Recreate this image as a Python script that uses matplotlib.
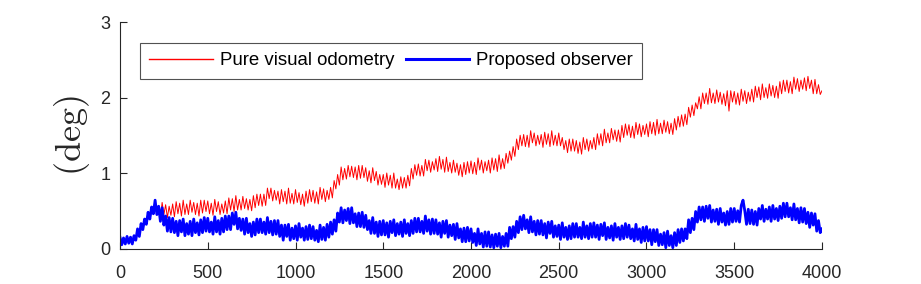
import numpy as np
import matplotlib
matplotlib.use('Agg')
import matplotlib.pyplot as plt

# sample index, one reading every 10 samples
t = np.arange(0, 4001, 10)

# pure visual odometry error (deg), one row per 100 samples
vo_err = [
    0.12, 0.08, 0.13, 0.07, 0.12, 0.09, 0.14, 0.08, 0.15, 0.12,
    0.24, 0.19, 0.31, 0.25, 0.38, 0.33, 0.46, 0.40, 0.53, 0.46,
    0.61, 0.44, 0.57, 0.41, 0.61, 0.45, 0.58, 0.41, 0.56, 0.44,
    0.59, 0.42, 0.62, 0.46, 0.60, 0.43, 0.64, 0.45, 0.59, 0.45,
    0.64, 0.48, 0.61, 0.45, 0.60, 0.43, 0.64, 0.47, 0.64, 0.49,
    0.63, 0.46, 0.60, 0.44, 0.65, 0.49, 0.62, 0.45, 0.59, 0.47,
    0.63, 0.46, 0.67, 0.51, 0.66, 0.49, 0.70, 0.51, 0.65, 0.51,
    0.69, 0.53, 0.66, 0.51, 0.65, 0.50, 0.70, 0.54, 0.72, 0.57,
    0.72, 0.56, 0.72, 0.57, 0.80, 0.66, 0.80, 0.63, 0.77, 0.64,
    0.76, 0.59, 0.78, 0.62, 0.76, 0.59, 0.80, 0.60, 0.73, 0.59,
    0.78, 0.61, 0.74, 0.58, 0.72, 0.56, 0.76, 0.60, 0.78, 0.62,
    0.77, 0.60, 0.75, 0.59, 0.81, 0.65, 0.79, 0.62, 0.77, 0.65,
    0.81, 0.67, 0.90, 0.79, 0.98, 0.84, 1.08, 0.91, 1.06, 0.92,
    1.10, 0.95, 1.09, 0.94, 1.08, 0.91, 1.10, 0.93, 1.10, 0.94,
    1.07, 0.89, 1.03, 0.87, 1.07, 0.90, 1.02, 0.84, 0.98, 0.85,
    0.98, 0.81, 1.00, 0.84, 0.97, 0.80, 1.00, 0.80, 0.92, 0.78,
    0.95, 0.80, 0.94, 0.80, 0.97, 0.83, 1.06, 0.92, 1.11, 0.97,
    1.12, 0.96, 1.10, 0.96, 1.18, 1.03, 1.17, 1.01, 1.15, 1.04,
    1.19, 1.02, 1.22, 1.05, 1.18, 1.01, 1.21, 1.02, 1.14, 1.00,
    1.17, 1.01, 1.13, 0.97, 1.11, 0.95, 1.14, 0.98, 1.15, 1.00,
    1.16, 0.99, 1.14, 0.98, 1.20, 1.04, 1.17, 1.00, 1.15, 1.03,
    1.17, 1.00, 1.20, 1.04, 1.19, 1.02, 1.24, 1.05, 1.19, 1.06,
    1.26, 1.13, 1.29, 1.17, 1.35, 1.22, 1.45, 1.31, 1.50, 1.36,
    1.51, 1.35, 1.50, 1.34, 1.56, 1.40, 1.53, 1.36, 1.50, 1.38,
    1.51, 1.34, 1.54, 1.38, 1.52, 1.35, 1.56, 1.37, 1.50, 1.36,
    1.53, 1.36, 1.47, 1.31, 1.43, 1.27, 1.45, 1.29, 1.45, 1.29,
    1.43, 1.26, 1.41, 1.25, 1.47, 1.31, 1.45, 1.29, 1.43, 1.32,
    1.47, 1.31, 1.52, 1.37, 1.52, 1.36, 1.58, 1.40, 1.53, 1.40,
    1.59, 1.44, 1.57, 1.42, 1.57, 1.41, 1.63, 1.47, 1.65, 1.50,
    1.64, 1.47, 1.62, 1.46, 1.67, 1.51, 1.65, 1.48, 1.63, 1.51,
    1.65, 1.48, 1.68, 1.52, 1.67, 1.50, 1.71, 1.52, 1.66, 1.52,
    1.70, 1.54, 1.68, 1.52, 1.66, 1.51, 1.72, 1.57, 1.75, 1.61,
    1.77, 1.62, 1.78, 1.64, 1.87, 1.74, 1.90, 1.76, 1.93, 1.85,
    2.01, 1.85, 2.06, 1.92, 2.06, 1.91, 2.12, 1.93, 2.06, 1.92,
    2.10, 1.94, 2.07, 1.91, 2.05, 1.89, 2.09, 1.82, 2.09, 1.94,
    2.08, 1.91, 2.06, 1.90, 2.11, 1.95, 2.09, 1.92, 2.07, 1.95,
    2.11, 1.94, 2.15, 2.00, 2.14, 1.97, 2.18, 2.00, 2.13, 1.99,
    2.18, 2.02, 2.16, 2.00, 2.15, 1.99, 2.21, 2.05, 2.23, 2.08,
    2.23, 2.06, 2.21, 2.05, 2.27, 2.11, 2.25, 2.08, 2.23, 2.11,
    2.26, 2.09, 2.28, 2.12, 2.23, 2.05, 2.24, 2.05, 2.17, 2.04,
    2.09]

# proposed observer error (deg), one row per 100 samples
obs_err = [
    0.15, 0.05, 0.14, 0.06, 0.16, 0.07, 0.15, 0.06, 0.17, 0.11,
    0.26, 0.16, 0.33, 0.25, 0.39, 0.32, 0.48, 0.39, 0.55, 0.46,
    0.64, 0.45, 0.56, 0.36, 0.54, 0.31, 0.43, 0.23, 0.41, 0.22,
    0.40, 0.21, 0.36, 0.17, 0.37, 0.22, 0.39, 0.17, 0.33, 0.19,
    0.36, 0.17, 0.39, 0.21, 0.34, 0.18, 0.38, 0.21, 0.41, 0.23,
    0.40, 0.22, 0.35, 0.19, 0.42, 0.22, 0.37, 0.19, 0.40, 0.22,
    0.43, 0.25, 0.43, 0.25, 0.47, 0.32, 0.48, 0.26, 0.40, 0.24,
    0.39, 0.19, 0.40, 0.21, 0.33, 0.16, 0.35, 0.18, 0.39, 0.21,
    0.39, 0.21, 0.35, 0.19, 0.41, 0.21, 0.36, 0.18, 0.37, 0.19,
    0.37, 0.16, 0.31, 0.11, 0.31, 0.16, 0.32, 0.11, 0.27, 0.13,
    0.30, 0.11, 0.33, 0.15, 0.27, 0.11, 0.29, 0.12, 0.31, 0.13,
    0.29, 0.11, 0.24, 0.09, 0.31, 0.12, 0.28, 0.11, 0.32, 0.15,
    0.35, 0.19, 0.38, 0.23, 0.47, 0.35, 0.54, 0.34, 0.51, 0.37,
    0.53, 0.33, 0.54, 0.34, 0.46, 0.29, 0.47, 0.29, 0.48, 0.28,
    0.44, 0.25, 0.37, 0.20, 0.41, 0.20, 0.35, 0.16, 0.36, 0.18,
    0.37, 0.18, 0.34, 0.15, 0.36, 0.21, 0.38, 0.17, 0.33, 0.19,
    0.35, 0.16, 0.38, 0.20, 0.33, 0.17, 0.37, 0.20, 0.40, 0.22,
    0.40, 0.22, 0.36, 0.20, 0.43, 0.23, 0.38, 0.19, 0.39, 0.20,
    0.38, 0.19, 0.34, 0.15, 0.36, 0.20, 0.37, 0.15, 0.31, 0.17,
    0.32, 0.12, 0.33, 0.14, 0.26, 0.09, 0.27, 0.09, 0.28, 0.10,
    0.26, 0.08, 0.20, 0.04, 0.26, 0.06, 0.20, 0.02, 0.22, 0.03,
    0.22, 0.02, 0.18, 0.01, 0.19, 0.03, 0.20, 0.01, 0.16, 0.03,
    0.20, 0.03, 0.28, 0.13, 0.29, 0.15, 0.36, 0.21, 0.42, 0.25,
    0.44, 0.26, 0.38, 0.21, 0.42, 0.22, 0.36, 0.18, 0.37, 0.19,
    0.37, 0.18, 0.33, 0.14, 0.35, 0.20, 0.36, 0.15, 0.30, 0.16,
    0.31, 0.12, 0.34, 0.15, 0.28, 0.12, 0.30, 0.13, 0.33, 0.15,
    0.33, 0.15, 0.28, 0.13, 0.35, 0.15, 0.30, 0.13, 0.33, 0.15,
    0.34, 0.15, 0.31, 0.12, 0.32, 0.17, 0.34, 0.12, 0.28, 0.14,
    0.30, 0.11, 0.33, 0.15, 0.28, 0.12, 0.30, 0.13, 0.33, 0.15,
    0.31, 0.13, 0.26, 0.10, 0.32, 0.12, 0.26, 0.08, 0.28, 0.10,
    0.29, 0.10, 0.25, 0.05, 0.25, 0.09, 0.25, 0.04, 0.19, 0.05,
    0.21, 0.01, 0.23, 0.04, 0.17, 0.01, 0.21, 0.04, 0.25, 0.08,
    0.26, 0.10, 0.26, 0.13, 0.38, 0.21, 0.40, 0.25, 0.49, 0.35,
    0.55, 0.38, 0.55, 0.36, 0.56, 0.40, 0.57, 0.35, 0.51, 0.36,
    0.52, 0.32, 0.53, 0.35, 0.47, 0.31, 0.49, 0.32, 0.53, 0.35,
    0.53, 0.36, 0.50, 0.35, 0.57, 0.64, 0.50, 0.32, 0.52, 0.33,
    0.51, 0.32, 0.49, 0.31, 0.53, 0.39, 0.57, 0.36, 0.52, 0.39,
    0.55, 0.36, 0.57, 0.39, 0.53, 0.37, 0.56, 0.40, 0.60, 0.42,
    0.60, 0.42, 0.54, 0.38, 0.59, 0.38, 0.53, 0.34, 0.54, 0.35,
    0.53, 0.33, 0.48, 0.28, 0.47, 0.31, 0.46, 0.23, 0.37, 0.21,
    0.26]

x_ticks = [0, 500, 1000, 1500, 2000, 2500, 3000, 3500, 4000]
y_ticks = [0, 1, 2, 3]

plt.rcParams['font.family'] = ['Liberation Sans', 'DejaVu Sans']
plt.rcParams['mathtext.fontset'] = 'cm'
plt.rcParams['path.simplify'] = False  # keep every jitter of the noisy traces

fig = plt.figure(figsize=(9.21, 2.84), dpi=100)
ax = fig.add_axes([0.1303, 0.125, 0.7622, 0.7975])

axc = (0.15, 0.15, 0.15)
ax.plot(t, vo_err, color='red', lw=0.7, label='Pure visual odometry')
ax.plot(t, obs_err, color='blue', lw=2.0, label='Proposed observer')

ax.set_xlim(0, 4000)
ax.set_ylim(0, 3)
ax.set_xticks(x_ticks)
ax.set_yticks(y_ticks)
ax.tick_params(direction='in', length=5, width=0.8, colors=axc,
               labelsize=13, labelcolor=axc)
ax.tick_params(axis='x', pad=12)
ax.tick_params(axis='y', pad=7)
ax.spines['top'].set_visible(False)
ax.spines['right'].set_visible(False)
for s in ['left', 'bottom']:
    ax.spines[s].set_color(axc)
    ax.spines[s].set_linewidth(0.8)

ax.set_ylabel(r'$(\mathrm{deg})$', fontsize=26, color=axc, labelpad=6)

leg = ax.legend(loc='upper left', bbox_to_anchor=(0.0285, 0.907), borderaxespad=0,
                ncol=2, fontsize=13.4, fancybox=False, handlelength=3.4,
                handletextpad=0.4, columnspacing=0.6, borderpad=0.5)
leg.get_frame().set_edgecolor(axc)
leg.get_frame().set_linewidth(0.8)
leg.get_lines()[0].set_linewidth(1.0)
leg.get_lines()[1].set_linewidth(2.2)

fig.savefig('out.png', dpi=100)
